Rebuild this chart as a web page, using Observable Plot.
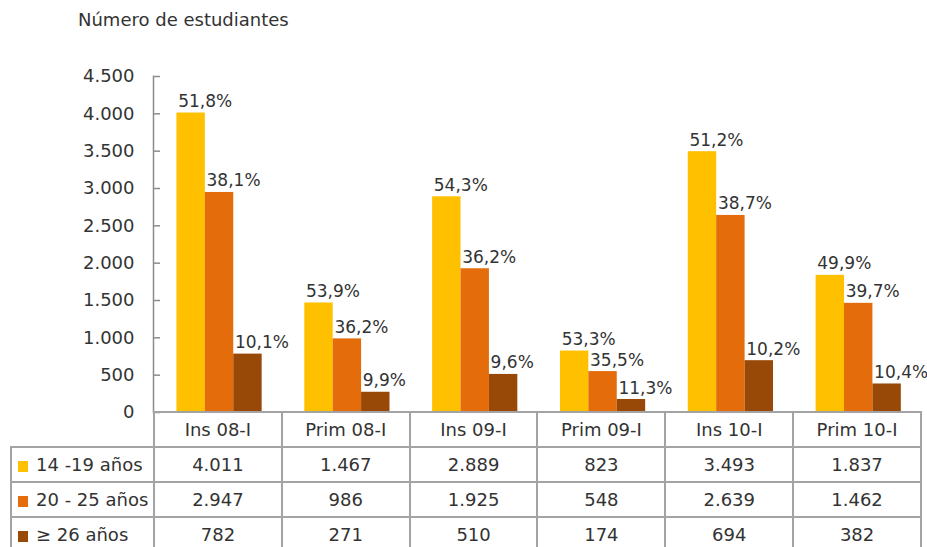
<!DOCTYPE html>
<html><head><meta charset="utf-8">
<script src="https://cdn.jsdelivr.net/npm/d3@7"></script>
<script src="https://cdn.jsdelivr.net/npm/@observablehq/plot@0.6"></script>
<style>
body{margin:0;background:#fff;font-family:"DejaVu Sans",sans-serif;color:#333;}
#wrap{position:relative;width:927px;height:547px;overflow:hidden;}
#title{position:absolute;left:78px;top:9px;font-size:18px;white-space:nowrap;}
#chart{position:absolute;left:0;top:0;}
table{position:absolute;left:10px;top:411px;border-collapse:collapse;table-layout:fixed;font-size:18px;color:#333;}
td{border:2px solid #a3a3a3;height:33px;text-align:center;padding:0;white-space:nowrap;}
td.lab{text-align:left;padding-left:6px;}
td.blank{border-top:none;border-left:none;}
.sw{display:inline-block;width:10px;height:11px;margin-right:8px;vertical-align:-1px;}
</style>
</head><body>
<div id="wrap">
<div id="chart"></div>
<div id="title">Número de estudiantes</div>
</div>
<script>
const categories = ["Ins 08-I","Prim 08-I","Ins 09-I","Prim 09-I","Ins 10-I","Prim 10-I"];
const seriesNames = ["14 -19 años","20 - 25 años","≥ 26 años"];
const seriesColors = ["#FFC000","#E46C0A","#984807"];
const values14 = [4011,1467,2889,823,3493,1837];
const values20 = [2947,986,1925,548,2639,1462];
const values26 = [782,271,510,174,694,382];
const pct14 = [51.8,53.9,54.3,53.3,51.2,49.9];
const pct20 = [38.1,36.2,36.2,35.5,38.7,39.7];
const pct26 = [10.1,9.9,9.6,11.3,10.2,10.4];
const yTicks = [0,500,1000,1500,2000,2500,3000,3500,4000,4500];

const loc = d3.formatLocale({decimal:",", thousands:".", grouping:[3], currency:["","€"]});
const fmtInt = loc.format(",d");
const fmtPct = d => loc.format(".1f")(d) + "%";

const valueSets = [values14, values20, values26];
const pctSets = [pct14, pct20, pct26];
const rows = [];
seriesNames.forEach((s, si) => categories.forEach((c, ci) => {
  rows.push({cat: c, series: s, value: valueSets[si][ci], pct: pctSets[si][ci]});
}));

const chart = Plot.plot({
  width: 927, height: 440,
  marginLeft: 153, marginRight: 7, marginTop: 76, marginBottom: 28,
  style: {fontFamily: "DejaVu Sans, sans-serif", fontSize: "18px", color: "#333", background: "transparent"},
  fx: {domain: categories, padding: 0, round: false, axis: null},
  x: {domain: seriesNames, paddingInner: 0, paddingOuter: 0.75, align: 0.55, round: false, axis: null},
  y: {domain: [0, 4500], axis: null},
  color: {domain: seriesNames, range: seriesColors},
  marks: [
    Plot.barY(rows, {fx: "cat", x: "series", y: "value", fill: "series"}),
    Plot.text(rows, {fx: "cat", x: "series", y: "value", text: d => fmtPct(d.pct),
      textAnchor: "start", lineAnchor: "bottom", dx: -13, dy: -6,
      fill: "#333", stroke: "white", strokeWidth: 4, paintOrder: "stroke", fontSize: 17}),
    Plot.frame({anchor: "left", facetAnchor: "left", stroke: "#8c8c8c", strokeWidth: 1.5}),
    Plot.axisY({ticks: yTicks, tickFormat: fmtInt, tickSize: -7, tickPadding: 26,
      stroke: "#8c8c8c", strokeWidth: 1.5, fill: "#333", label: null, fontSize: 18})
  ]
});
document.getElementById("chart").appendChild(chart);

// Data table built from the same arrays
const table = document.createElement("table");
const colW = (927 - 7 - 153) / categories.length;
const cg = document.createElement("colgroup");
const c0 = document.createElement("col"); c0.style.width = "143px"; cg.appendChild(c0);
categories.forEach(() => { const c = document.createElement("col"); c.style.width = colW + "px"; cg.appendChild(c); });
table.appendChild(cg);
const hr = document.createElement("tr");
const h0 = document.createElement("td"); h0.className = "blank"; hr.appendChild(h0);
categories.forEach(c => { const td = document.createElement("td"); td.textContent = c; hr.appendChild(td); });
table.appendChild(hr);
seriesNames.forEach((s, si) => {
  const tr = document.createElement("tr");
  const td0 = document.createElement("td"); td0.className = "lab";
  const sw = document.createElement("span"); sw.className = "sw"; sw.style.background = seriesColors[si];
  td0.appendChild(sw); td0.appendChild(document.createTextNode(s));
  tr.appendChild(td0);
  valueSets[si].forEach(v => { const td = document.createElement("td"); td.textContent = fmtInt(v); tr.appendChild(td); });
  table.appendChild(tr);
});
document.getElementById("wrap").appendChild(table);
</script>
</body></html>
